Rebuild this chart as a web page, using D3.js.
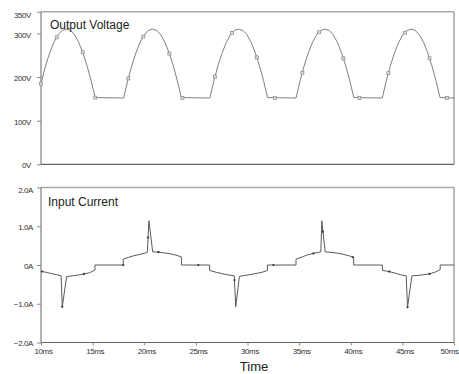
<!DOCTYPE html>
<html>
<head>
<meta charset="utf-8">
<script src="https://cdn.jsdelivr.net/npm/d3@7"></script>
<style>
  body { margin: 0; background: #fff; }
  svg { display: block; font-family: "Liberation Sans", Arial, sans-serif; }
  .tick text { font-size: 8px; fill: #333; letter-spacing: -0.4px; }
  .tick line { stroke: #888; }
</style>
</head>
<body>
<div id="chart"></div>
<script>
// time axis (ms)
const timeTicks = [10, 15, 20, 25, 30, 35, 40, 45, 50];
const voltTicks = [0, 100, 200, 300, 350];
const currTicks = [-2, -1, 0, 1, 2];

// output voltage trace
const voltT = [
  10.0, 10.45, 10.85, 11.25, 11.65, 12.05, 12.45, 12.85, 13.25, 13.65, 14.05, 14.45, 14.85, 15.25,
  18.0, 18.4, 18.8, 19.2, 19.6, 20.0, 20.4, 20.8, 21.2, 21.6, 22.0, 22.4, 22.8, 23.2, 23.6,
  26.35, 26.75, 27.15, 27.55, 27.95, 28.35, 28.75, 29.15, 29.55, 29.95, 30.35, 30.75, 31.15, 31.55, 31.95,
  34.7, 35.1, 35.5, 35.9, 36.3, 36.7, 37.1, 37.5, 37.9, 38.3, 38.7, 39.1, 39.5, 39.9, 40.3,
  43.05, 43.45, 43.85, 44.25, 44.65, 45.05, 45.45, 45.85, 46.25, 46.65, 47.05, 47.45, 47.85, 48.25, 48.65,
  50.0
];
const voltV = [
  185, 227, 256, 280, 297, 307, 310, 307, 297, 280, 256, 227, 192, 153,
  152, 192, 227, 256, 280, 297, 307, 310, 307, 297, 280, 256, 227, 192, 153,
  152, 192, 227, 256, 280, 297, 307, 310, 307, 297, 280, 256, 227, 192, 153,
  152, 192, 227, 256, 280, 297, 307, 310, 307, 297, 280, 256, 227, 192, 153,
  152, 192, 227, 256, 280, 297, 307, 310, 307, 297, 280, 256, 227, 192, 153,
  152
];
const voltMarkT = [10.0, 11.52, 14.04, 15.25, 18.46, 19.91, 22.43, 23.7, 26.86, 28.5,
  30.9, 32.65, 35.32, 36.94, 39.29, 40.84, 43.65, 45.27, 47.63, 49.31];
const voltMarkV = [185, 291, 257, 153, 197, 293, 254, 152, 201, 301,
  245, 152, 210, 303, 243, 152, 209, 302, 243, 152];

// input current trace
const currT = [
  10.0, 10.5, 11.0, 11.5, 11.95, 12.06, 12.48, 13.0, 13.6, 14.17, 14.7, 15.23, 15.23,
  17.97, 17.97, 18.5, 19.0, 19.5, 20.0, 20.3, 20.45, 20.82, 21.37, 22.0, 22.5, 23.0, 23.6, 23.6,
  26.33, 26.33, 27.0, 27.5, 28.0, 28.72, 28.86, 29.22, 29.8, 30.4, 31.0, 31.5, 31.93, 31.93,
  34.7, 34.7, 35.3, 35.8, 36.38, 37.1, 37.2, 37.52, 38.0, 38.6, 39.2, 39.8, 40.28, 40.28,
  43.07, 43.07, 43.73, 44.3, 44.8, 45.37, 45.5, 45.92, 46.5, 47.05, 47.63, 48.2, 48.66, 48.66,
  50.0
];
const currA = [
  -0.16, -0.19, -0.22, -0.25, -0.28, -1.08, -0.30, -0.28, -0.26, -0.23, -0.20, -0.13, 0,
  0, 0.15, 0.20, 0.24, 0.27, 0.30, 0.33, 1.14, 0.34, 0.33, 0.31, 0.29, 0.26, 0.21, 0,
  0, -0.14, -0.19, -0.22, -0.25, -0.28, -1.08, -0.29, -0.27, -0.24, -0.21, -0.18, -0.14, 0,
  0, 0.15, 0.21, 0.26, 0.30, 0.34, 1.14, 0.34, 0.33, 0.31, 0.28, 0.24, 0.20, 0,
  0, -0.14, -0.17, -0.21, -0.25, -0.28, -1.09, -0.28, -0.27, -0.25, -0.23, -0.18, -0.12, 0,
  0
];
const currMarkT = [10.1, 12.06, 14.17, 17.97, 20.37, 21.37, 25.24, 28.74, 32.51, 36.38, 37.3, 40.2, 43.73, 45.5, 47.63];
const currMarkA = [-0.17, -1.08, -0.23, 0, 0.71, 0.33, 0, -0.39, 0, 0.30, 0.86, 0.20, -0.17, -1.09, -0.23];

const W = 459, H = 374;
const left = 41, right = 454;
const topV = [11.7, 164.3];
const topC = [187.5, 342.5];

const svg = d3.select("#chart").append("svg")
    .attr("width", W)
    .attr("height", H);

const x = d3.scaleLinear().domain([10, 50]).range([left, right]);
const yV = d3.scaleLinear().domain([0, 350]).range([topV[1], topV[0]]);
const yC = d3.scaleLinear().domain([-2, 2]).range([topC[1], topC[0]]);

function frame(y0, y1) {
  // light top/left edge, darker bottom/right edge
  svg.append("line").attr("x1", left).attr("x2", right).attr("y1", y0).attr("y2", y0)
      .attr("stroke", "#aaa").attr("stroke-width", 1.5);
  svg.append("line").attr("x1", left).attr("x2", left).attr("y1", y0).attr("y2", y1)
      .attr("stroke", "#999").attr("stroke-width", 1.5);
  svg.append("line").attr("x1", right).attr("x2", right).attr("y1", y0).attr("y2", y1)
      .attr("stroke", "#777").attr("stroke-width", 1);
  svg.append("line").attr("x1", left).attr("x2", right).attr("y1", y1).attr("y2", y1)
      .attr("stroke", "#666").attr("stroke-width", 1.2);
}

frame(topV[0], topV[1]);
frame(topC[0], topC[1]);

// y axes
const axV = svg.append("g")
    .attr("transform", "translate(" + left + ",0)")
    .call(d3.axisLeft(yV).tickValues(voltTicks).tickFormat(d => d + "V").tickSize(4).tickPadding(6));
axV.select(".domain").remove();
axV.selectAll(".tick text").attr("dy", d => d === 350 ? "0.7em" : "0.45em");

const axC = svg.append("g")
    .attr("transform", "translate(" + left + ",0)")
    .call(d3.axisLeft(yC).tickValues(currTicks).tickFormat(d => d === 0 ? "0A" : d3.format(".1f")(d) + "A").tickSize(4).tickPadding(4));
axC.select(".domain").remove();
axC.selectAll(".tick text").attr("dy", d => d === 2 ? "0.6em" : "0.4em");

// x axis under the current plot
const axX = svg.append("g")
    .attr("transform", "translate(0," + topC[1] + ")")
    .call(d3.axisBottom(x).tickValues(timeTicks).tickFormat(d => d + "ms").tickSize(3).tickPadding(3));
axX.select(".domain").remove();
axX.selectAll(".tick text").attr("dx", "2");
// last label would run past the window edge
axX.selectAll(".tick text").filter(d => d === 50)
    .attr("text-anchor", "end").attr("dx", "4");

// traces
const voltData = voltT.map((t, i) => ({ t: t, v: voltV[i] }));
const currData = currT.map((t, i) => ({ t: t, v: currA[i] }));

const lineV = d3.line().x(d => x(d.t)).y(d => yV(d.v));
const lineC = d3.line().x(d => x(d.t)).y(d => yC(d.v));

svg.append("path").attr("d", lineV(voltData))
    .attr("fill", "none").attr("stroke", "#808080").attr("stroke-width", 1);
svg.append("path").attr("d", lineC(currData))
    .attr("fill", "none").attr("stroke", "#5a5a5a").attr("stroke-width", 1);

// markers
svg.selectAll(".vmark")
    .data(voltMarkT.map((t, i) => ({ t: t, v: voltMarkV[i] })))
    .enter()
    .append("rect")
    .attr("class", "vmark")
    .attr("x", d => x(d.t) - 1.5)
    .attr("y", d => yV(d.v) - 1.5)
    .attr("width", 3)
    .attr("height", 3)
    .attr("fill", "#ddd")
    .attr("stroke", "#888")
    .attr("stroke-width", 0.7);

svg.selectAll(".cmark")
    .data(currMarkT.map((t, i) => ({ t: t, v: currMarkA[i] })))
    .enter()
    .append("circle")
    .attr("class", "cmark")
    .attr("cx", d => x(d.t))
    .attr("cy", d => yC(d.v))
    .attr("r", 1.1)
    .attr("fill", "#333");

// labels
svg.append("text").attr("x", 50).attr("y", 28.5)
    .attr("font-size", 12).attr("fill", "#222")
    .text("Output Voltage");
svg.append("text").attr("x", 48).attr("y", 206)
    .attr("font-size", 12).attr("fill", "#222")
    .text("Input Current");
svg.append("text").attr("x", 254).attr("y", 371)
    .attr("text-anchor", "middle")
    .attr("font-size", 13).attr("fill", "#222")
    .text("Time");
</script>
</body>
</html>
